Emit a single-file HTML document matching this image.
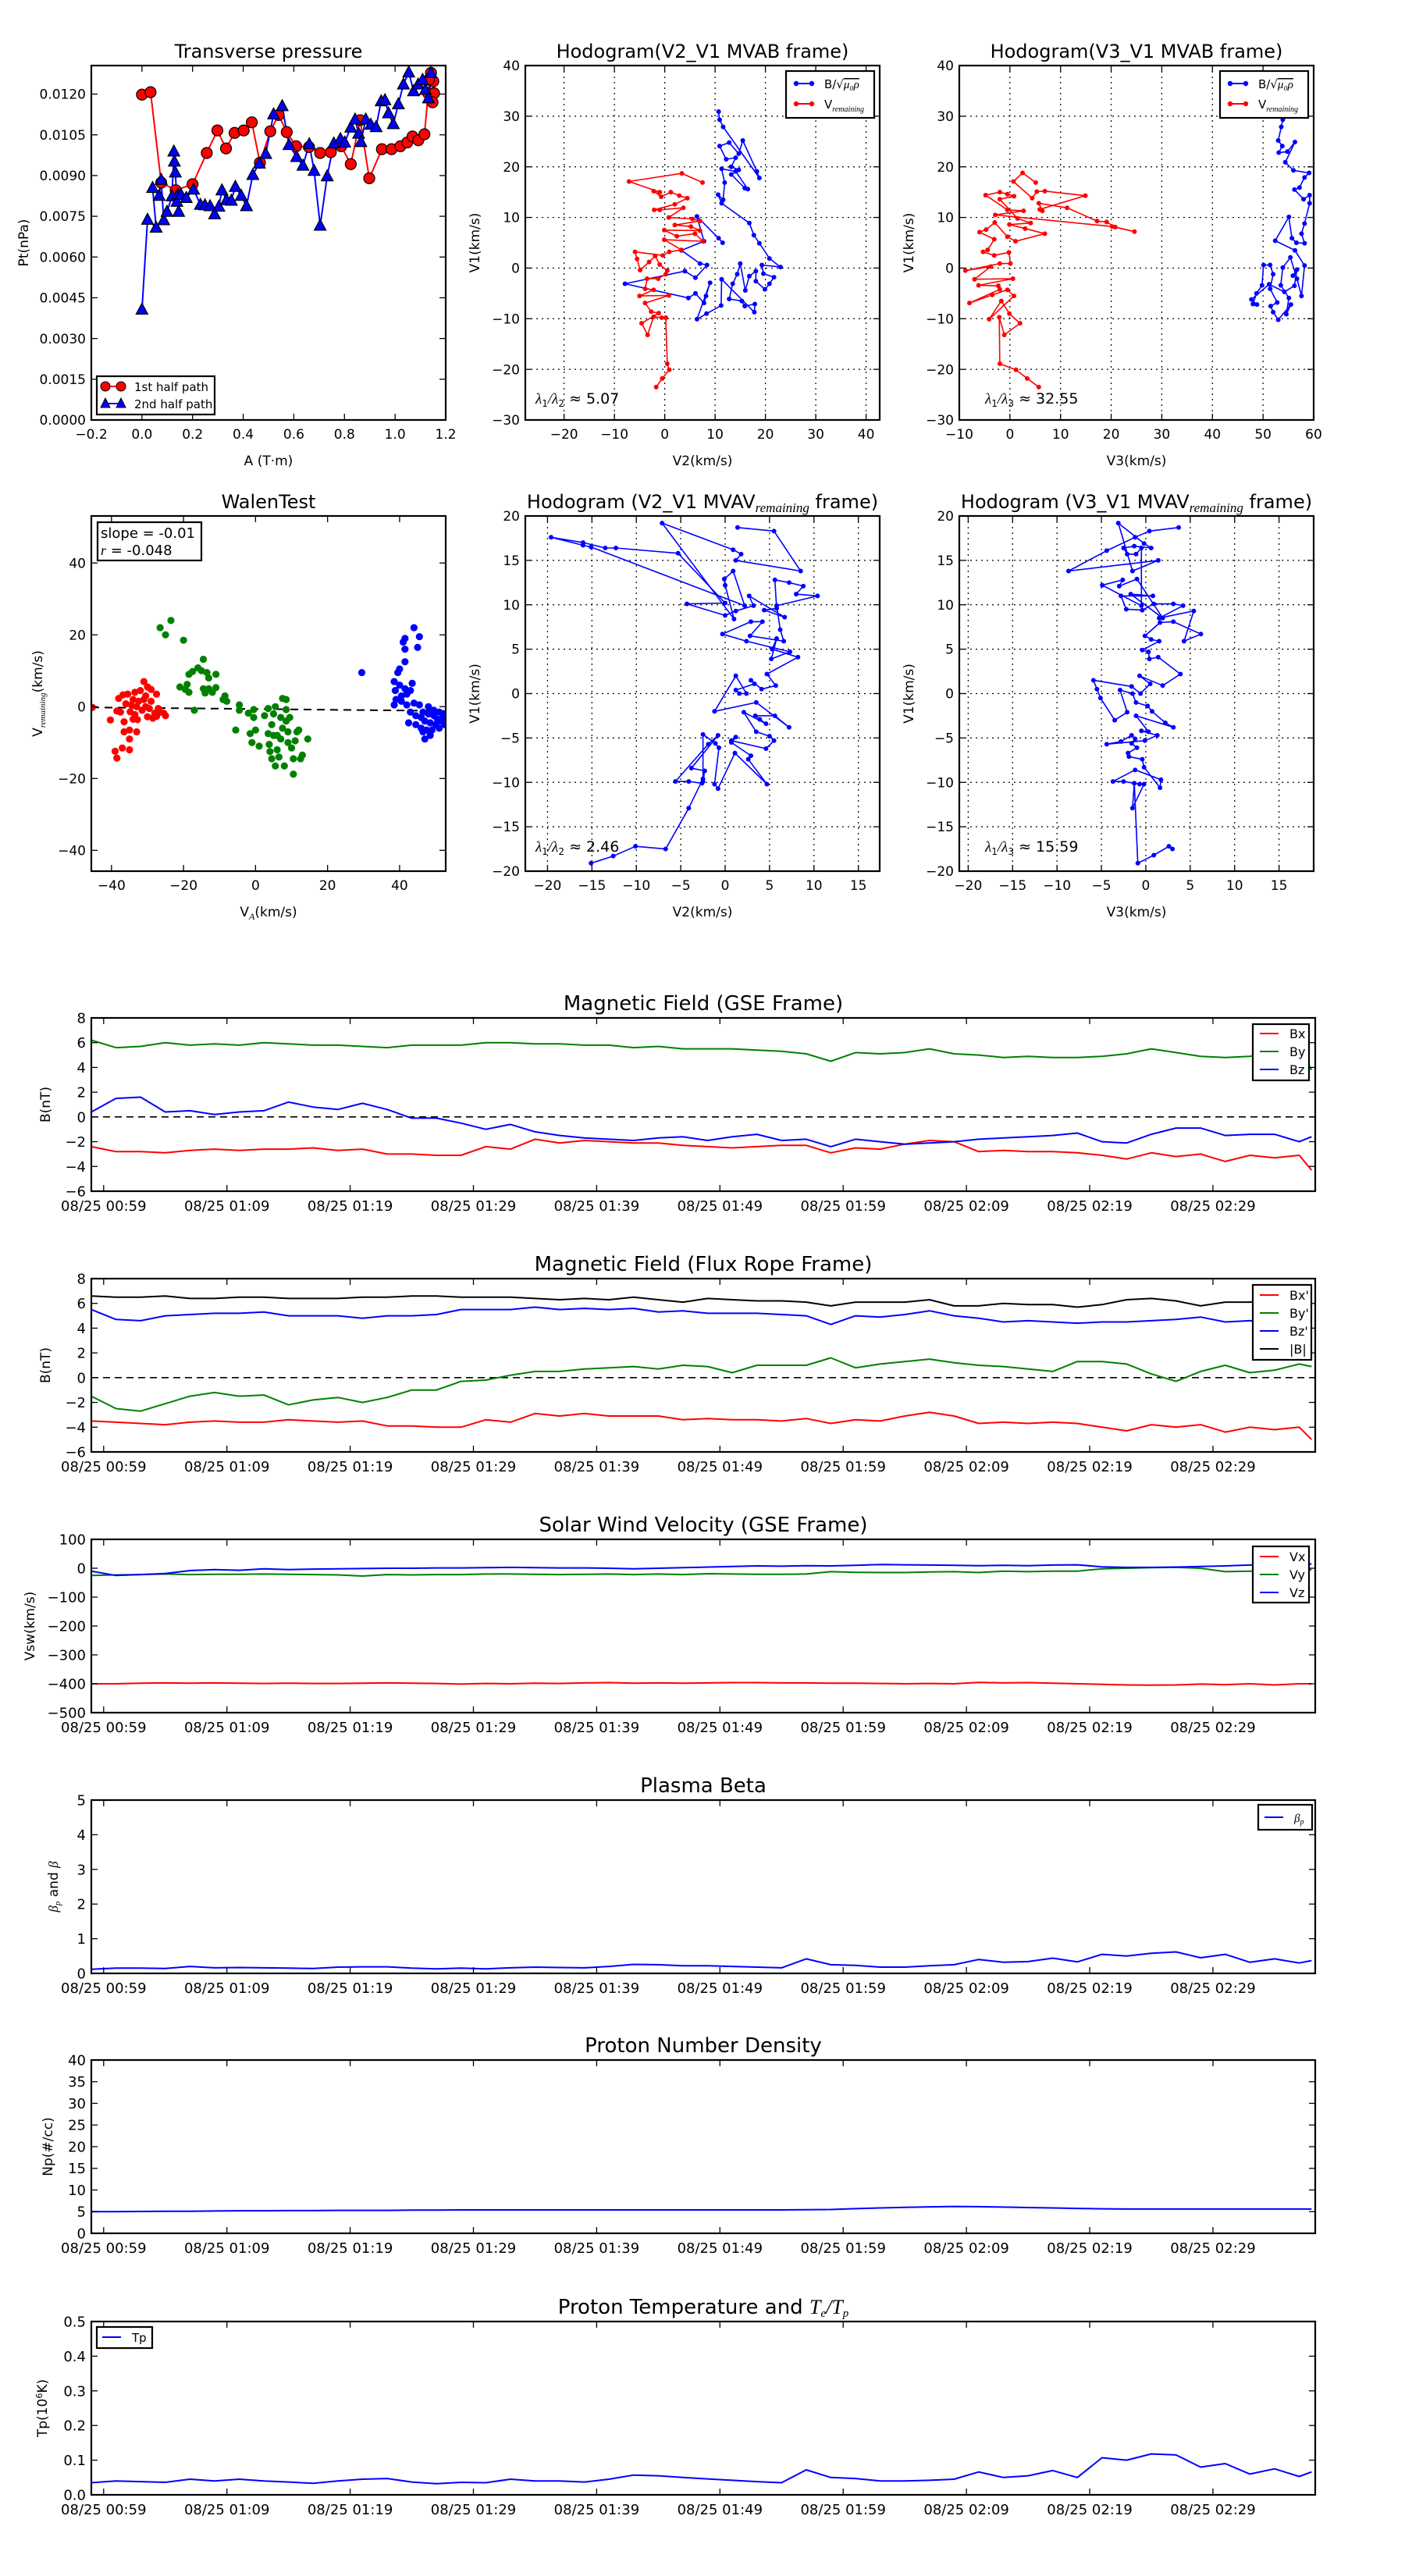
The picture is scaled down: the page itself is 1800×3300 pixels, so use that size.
<!DOCTYPE html>
<html><head><meta charset="utf-8">
<style>
body{margin:0;background:#fff}
svg{display:block}
text{font-family:"DejaVu Sans","Liberation Sans",sans-serif;fill:#000}
</style></head>
<body>
<svg id="fig" width="1800" height="3300" viewBox="0 0 1800 3300"></svg>
<script>
// ---------------- Transverse pressure ----------------
const tpA1 = [0,0.034,0.076,0.133,0.2,0.256,0.298,0.332,0.366,0.402,0.434,0.466,0.507,0.54,0.572,0.609,0.66,0.704,0.746,0.787,0.825,0.862,0.898,0.948,0.986,1.021,1.048,1.069,1.092,1.116,1.131,1.142,1.151,1.154,1.148,1.134];
const tpP1 = [0.01198,0.01207,0.00874,0.00846,0.00868,0.00983,0.01066,0.0100,0.01057,0.01066,0.01096,0.00947,0.01063,0.01123,0.0106,0.01008,0.01005,0.00983,0.00986,0.01008,0.00942,0.01104,0.0089,0.00997,0.00997,0.01008,0.01022,0.01044,0.0103,0.01052,0.01203,0.01278,0.01247,0.01203,0.0117,0.01253];
const tpA2 = [0,0.022,0.056,0.042,0.068,0.076,0.086,0.099,0.119,0.126,0.128,0.132,0.138,0.145,0.142,0.154,0.175,0.204,0.231,0.249,0.269,0.287,0.304,0.316,0.334,0.353,0.369,0.392,0.413,0.438,0.464,0.489,0.52,0.554,0.581,0.611,0.636,0.661,0.68,0.704,0.732,0.758,0.784,0.801,0.825,0.842,0.856,0.865,0.884,0.904,0.925,0.945,0.96,0.974,0.993,1.013,1.033,1.054,1.073,1.091,1.109,1.12,1.132,1.142];
const tpP2 = [0.00407,0.00738,0.00709,0.00855,0.00826,0.00885,0.00736,0.00767,0.00824,0.00989,0.00952,0.00912,0.00804,0.00767,0.0083,0.0083,0.00818,0.00849,0.00793,0.00791,0.00788,0.00758,0.00786,0.00846,0.0081,0.00808,0.00859,0.00826,0.00788,0.00903,0.00945,0.0098,0.01126,0.01156,0.01013,0.00969,0.00937,0.01016,0.00918,0.00716,0.00898,0.01019,0.01035,0.01022,0.01077,0.01107,0.01055,0.01024,0.01107,0.01088,0.01079,0.01174,0.01178,0.0113,0.0109,0.01163,0.01236,0.0128,0.01211,0.01236,0.01253,0.01216,0.01185,0.01278];
const tpXTicks = [-0.2,0,0.2,0.4,0.6,0.8,1.0,1.2];
const tpXLabels = ["\u22120.2","0.0","0.2","0.4","0.6","0.8","1.0","1.2"];
const tpYTicks = [0,0.0015,0.003,0.0045,0.006,0.0075,0.009,0.0105,0.012];
const tpYLabels = ["0.0000","0.0015","0.0030","0.0045","0.0060","0.0075","0.0090","0.0105","0.0120"];

// ---------------- Hodogram V2-V1 MVAB ----------------
const h1BV2 = [10.7,10.9,11.6,18.8,18.3,15.5,14.7,12.8,10.9,12.2,14.1,13.2,14.7,13.2,15.9,16.5,14.1,11.3,11.9,11.6,10.6,11.3,16.8,17.7,18.8,20.8,23.0,19.3,19.6,21.7,20.8,19.9,18.1,18.1,16.8,16.0,15.0,14.4,13.5,12.8,15.3,15.9,17.9,17.8,11.3,11.2,8.3,6.4,9.0,8.2,7.8,6.1,4.7,-7.9,4.0,6.1,8.4,7.0,3.3,7.8,6.4,10.7,11.5];
const h1BV1 = [30.9,29.3,27.9,17.8,19.1,25.2,22.6,24.8,24.1,21.5,21.8,20.0,19.4,18.5,15.8,15.6,19.1,19.6,16.9,13.5,14.5,12.8,8.9,6.5,4.9,1.9,0.2,0.6,-1.1,-1.8,-3.1,-4.2,-2.6,-0.6,-1.6,-4.4,0.9,-1.2,-3.1,-6.1,-6.5,-7.5,-7.1,-8.7,-2.2,-7.4,-9.0,-10.1,-2.9,-5.5,-6.9,-5.0,-5.9,-3.1,-0.6,-1.9,0.6,0.9,3.5,5.3,10.2,5.9,5.0];
const h1RV2 = [7.5,3.4,-7.1,-1.0,-2.2,-0.7,1.2,2.9,4.5,2.0,-2.1,-1.0,3.7,0.8,5.5,7.0,2.0,5.2,7.0,-0.1,2.4,6.0,7.6,-0.1,3.3,0.9,-0.4,-5.9,-5.5,-4.9,-3.1,-1.9,-1.0,0.5,0.2,-1.3,-3.5,-3.9,-2.2,-5.0,0.8,-3.9,-2.7,-1.2,-4.6,-3.4,-2.2,-0.6,0.2,0.5,0.9,-0.5,-1.7];
const h1RV1 = [16.9,18.7,17.1,15.0,15.2,14.1,15.0,14.3,13.8,12.6,11.5,11.5,11.9,10.0,9.7,9.3,8.5,8.2,7.4,7.5,6.3,6.8,5.3,5.6,3.6,3.2,2.5,3.2,1.8,-0.4,1.2,2.4,0.7,-0.5,-1.2,-2.1,-2.1,-4.1,-4.3,-5.5,-5.4,-6.9,-8.6,-8.9,-10.9,-13.2,-9.6,-9.8,-9.8,-18.9,-20.1,-21.8,-23.5];

// ---------------- Hodogram V3-V1 MVAB ----------------
const h2BV3 = [53.3,53.9,53.6,53.0,53.8,53.1,54.8,56.3,54.4,56.0,59.1,58.2,57.2,56.2,58.0,59.2,59.2,58.2,57.6,58.2,56.6,55.7,55.1,52.4,56.3,58.2,57.6,56.7,55.4,53.9,53.5,55.1,54.6,55.5,53.0,52.0,51.5,52.8,51.4,52.0,51.4,50.1,49.8,48.7,48.0,48.8,47.7,51.2,54.2,56.2,56.7,55.9];
const h2BV1 = [30.9,29.3,27.9,25.2,24.1,22.8,23.0,24.9,20.9,19.3,18.8,17.9,15.9,15.5,13.6,14.4,12.8,8.8,6.8,4.9,5.0,5.9,10.1,5.4,3.5,0.5,-5.5,-2.1,2.1,0.1,-3.4,-5.9,-9.1,-7.2,-10.2,-8.7,-7.5,-6.8,-4.1,-1.2,0.6,0.6,-3.4,-5.0,-7.1,-7.2,-6.2,-3.2,-4.7,-3.5,-0.3,-1.5];
const h2RV3 = [5.1,2.5,0.7,4.4,5.3,6.9,14.9,5.9,6.4,5.7,11.3,17.2,19.1,20.8,24.6,20.2,-2.9,2.7,-0.5,-4.8,-2.0,-0.5,0.8,-2.0,1.5,4.1,-0.1,3.0,6.9,1.1,-0.5,-3.0,-4.7,-6.0,-3.1,-4.4,-5.3,-3.1,-0.2,0.1,-2.0,-8.8,-3.8,-7.0,0.6,-6.2,-2.3,-2.0,-8.0,-3.5,-0.5,0.8,-4.1,-1.7,-0.1,2.0,-1.1,-2.1,-2.0,1.2,3.4,5.7];
const h2RV1 = [16.9,18.8,17.1,13.8,15.1,15.2,14.3,11.6,11.3,12.8,11.9,9.3,9.1,8.1,7.2,8.2,10.5,11.3,11.5,14.4,15.0,14.6,14.2,13.6,9.8,8.9,8.6,7.8,6.8,5.3,6.2,9.0,7.6,7.1,5.7,3.6,3.2,2.5,3.1,0.9,0.9,-0.5,0.3,-2.2,-2.1,-3.4,-3.5,-4.2,-6.9,-5.3,-4.3,-5.5,-10.1,-6.5,-9.0,-10.9,-13.2,-9.7,-18.9,-20.1,-21.8,-23.5];

// ---------------- Walen test ----------------
const wRedVA = [-45.3,-40.3,-39,-38.5,-38,-37.5,-37,-36.8,-36.5,-36.5,-35.5,-35,-35,-35,-34.8,-34.5,-34,-34,-33.5,-33.5,-33,-32.8,-32.5,-32,-31.5,-31,-30.5,-30.5,-30,-30,-29.5,-29,-29,-28.5,-28,-27.5,-27.5,-27,-26.5,-25.5,-25,-38.5,-36,-33,-31];
const wRedVR = [-0.2,-3.7,-12.4,-14.3,2.3,-1.5,-11.5,3.3,-4.2,-7,3.5,-6.5,-12,-9,-1.4,0.5,2,-3.5,-2.2,4,-7,-3.6,1.5,4.5,-1,7,0,3,-2.8,5.5,-0.5,1.5,4.8,-3.2,-1.8,3.5,-2.7,-0.5,-1.5,-1.8,-2.5,-1.2,0.8,0,2];
const wGrnVA = [-26.5,-25,-23.5,-21,-20,-19.5,-19,-18.5,-18.5,-17.5,-17,-16,-15,-14.5,-14.5,-14,-13.5,-13,-13,-12,-11,-11,-9,-8.5,-8,-5.5,-4.5,-4.5,-2,-1.5,-1,-0.5,-0.5,0,1,2.5,3.5,3.5,3.8,4,4.5,4.5,5,5.5,5.5,6,6.5,7,7,7.5,7.5,8,8.5,8.5,8.5,9,9,10,10.5,10.5,11,11.5,12,12.5,13,14.5,9.5,6,5];
const wGrnVR = [22,20,24,5.5,18.5,4.8,6.2,9,4,9.8,-1,10.8,10,13.2,5,3.8,9.5,8,5,4,9,5.3,2,3,1.5,-6.5,0.5,-1,-1.8,-7.5,-10,-0.8,-3,-6.5,-11,-2.5,-0.5,-7.5,-10.5,-12.5,-5,-14.5,-2,0,-16.5,-8,-14,-3,-9,2.3,-6,-16.5,2,-0.8,-4,-10,-7,-11.5,-18.8,-14.5,-9.5,-7,-6.5,-14.5,-13.5,-9,-3,-12,-8];
const wBluVA = [29.5,38.5,38.5,38.8,39,39.5,40,40,40.5,40.5,41,41.5,41.5,41.5,41.5,42,42,42.5,43,43,43.5,44,44,44.5,44.5,45,45.5,45.5,46,46,46.5,47,47,47.5,48,48,48.5,49,49.5,49.5,50,50.5,51,51,51.5,52,52.5,52.5,46.5,48.5];
const wBluVR = [9.5,0.5,7,4.5,2,9.5,6,10.5,3,1.5,18,19,16,12.5,5,0.5,3.5,-4.5,-1.5,4.5,6.5,22,1,-5,-2.5,16.5,19.5,0.5,-3,-6,-1.5,-4,-9,-6.5,-2,0,-4.5,-6.5,-2.5,-1,-5,-3.5,-6,-1.5,-4,-3,-5,-2,-7,-8];
const wSlope = -0.01;
const wIntercept = -0.65;
const wXTicks = [-40,-20,0,20,40];
const wYTicks = [-40,-20,0,20,40];

// ---------------- Hodogram V2-V1 MVAV ----------------
const h3V2 = [1.4,5.5,8.5,1.2,1.8,0.9,-7.1,1.0,0.0,-0.1,0.9,2.2,-15.1,-16.0,-19.6,-16.0,-13.5,-12.3,-5.3,0.0,-4.3,0.0,1.2,3.2,2.7,6.7,4.4,5.8,5.6,7.2,8.8,8.0,10.4,5.8,6.2,6.6,2.8,4.2,2.9,-0.3,2.4,7.3,5.2,5.8,5.3,8.2,4.7,5.7,4.1,2.9,3.3,1.2,1.6,2.4,1.2,-1.2,3.5,7.2,5.6,3.4,3.9,4.6,2.1,3.5,5.0,5.5,4.6,0.7,1.2,0.7,2.9,2.6,4.7,1.1,-0.8,-1.2,-0.7,-1.1,-2.5,-2.5,-2.3,-3.8,-0.8,-1.9,-5.6,-4.1,-2.6,-2.5,-4.1,-6.7,-10.1,-12.6,-15.1];
const h3V1 = [18.7,18.3,13.8,15.0,15.7,16.2,19.2,8.4,12.2,12.9,13.8,9.9,16.5,16.7,17.6,17.0,16.4,16.4,15.8,10.2,10.1,8.8,9.3,9.9,11.0,8.6,9.4,9.6,12.8,12.5,12.1,11.2,11.0,9.9,7.2,5.9,6.5,8.1,8.1,6.7,5.9,4.7,3.9,6.2,5.0,4.1,2.2,0.9,0.5,1.5,1.1,0.4,0.0,0.0,2.0,-2.0,-1.0,-3.8,-2.5,-2.5,-2.9,-3.4,-2.1,-4.3,-4.8,-5.3,-6.2,-5.3,-4.9,-5.5,-7.0,-7.4,-10.2,-6.7,-10.7,-10.2,-6.1,-5.6,-4.6,-9.9,-8.7,-8.4,-4.7,-5.7,-9.9,-9.9,-10.1,-9.6,-12.9,-17.5,-17.2,-18.3,-19.1];

// ---------------- Hodogram V3-V1 MVAV ----------------
const h4V3 = [3.7,0.4,-1.2,-4.4,-8.7,1.4,-1.5,-3.1,-0.2,0.6,-1.3,-2.5,-2.1,-1.1,-0.5,-0.5,-4.9,-2.6,-3.0,-1.0,1.9,-1.7,0.8,-2.8,-2.2,-0.4,0.9,3.1,4.2,1.5,5.4,4.3,6.2,3.1,1.6,-0.1,0.6,1.5,-0.4,0.3,0.4,1.4,3.9,1.9,-0.7,0.5,-0.6,-1.6,-5.9,-5.5,-5.1,-3.5,-2.1,-2.9,-1.5,-1.1,0.2,0.7,2.2,3.1,-1.1,0.3,-0.5,1.3,-0.1,-4.4,-2.8,-1.6,-1.2,-1.6,-1.0,-2.0,-1.9,-0.4,-0.2,1.6,1.7,-1.2,-3.7,-2.5,-1.3,-0.7,-0.2,-1.5,-1.3,-0.9,0.9,2.6,3.0];
const h4V1 = [18.7,18.3,17.6,16.1,13.8,15.0,13.8,19.2,16.9,16.4,16.6,16.4,15.7,15.7,16.4,9.9,12.2,12.8,12.1,12.9,8.5,11.2,11.0,11.0,9.5,9.4,10.1,10.1,9.9,8.5,9.3,5.9,6.7,8.1,8.0,6.5,6.1,5.9,4.9,4.7,3.9,4.1,2.2,0.9,2.0,1.1,0.0,0.8,1.5,0.5,-0.5,-3.0,-2.1,0.4,0.0,-1.0,-1.4,-2.0,-3.3,-3.8,-2.5,-4.3,-4.2,-4.7,-5.3,-5.7,-5.4,-4.7,-5.1,-5.6,-6.1,-6.7,-7.1,-7.4,-8.3,-10.6,-9.7,-8.6,-9.9,-9.9,-10.1,-10.2,-10.2,-12.9,-10.1,-19.1,-18.2,-17.2,-17.5];

// ---------------- Time series (minutes after 00:58) ----------------
const tMin = [0,2,4,6,8,10,12,14,16,18,20,22,24,26,28,30,32,34,36,38,40,42,44,46,48,50,52,54,56,58,60,62,64,66,68,70,72,74,76,78,80,82,84,86,88,90,92,94,96,98,99];
const timeTickMin = [1,11,21,31,41,51,61,71,81,91];
const timeTickLabels = ["08/25 00:59","08/25 01:09","08/25 01:19","08/25 01:29","08/25 01:39","08/25 01:49","08/25 01:59","08/25 02:09","08/25 02:19","08/25 02:29"];
const gseBx = [-2.4,-2.8,-2.8,-2.9,-2.7,-2.6,-2.7,-2.6,-2.6,-2.5,-2.7,-2.6,-3.0,-3.0,-3.1,-3.1,-2.4,-2.6,-1.8,-2.1,-1.9,-2.0,-2.1,-2.1,-2.3,-2.4,-2.5,-2.4,-2.3,-2.3,-2.9,-2.5,-2.6,-2.2,-1.9,-2.0,-2.8,-2.7,-2.8,-2.8,-2.9,-3.1,-3.4,-2.9,-3.2,-3.0,-3.6,-3.1,-3.3,-3.1,-4.3];
const gseBy = [6.2,5.6,5.7,6.0,5.8,5.9,5.8,6.0,5.9,5.8,5.8,5.7,5.6,5.8,5.8,5.8,6.0,6.0,5.9,5.9,5.8,5.8,5.6,5.7,5.5,5.5,5.5,5.4,5.3,5.1,4.5,5.2,5.1,5.2,5.5,5.1,5.0,4.8,4.9,4.8,4.8,4.9,5.1,5.5,5.2,4.9,4.8,4.9,5.2,5.5,3.8];
const gseBz = [0.4,1.5,1.6,0.4,0.5,0.2,0.4,0.5,1.2,0.8,0.6,1.1,0.6,-0.1,-0.1,-0.5,-1.0,-0.6,-1.2,-1.5,-1.7,-1.8,-1.9,-1.7,-1.6,-1.9,-1.6,-1.4,-1.9,-1.8,-2.4,-1.8,-2.0,-2.2,-2.1,-2.0,-1.8,-1.7,-1.6,-1.5,-1.3,-2.0,-2.1,-1.4,-0.9,-0.9,-1.5,-1.4,-1.4,-2.0,-1.6];
const frBx = [-3.5,-3.6,-3.7,-3.8,-3.6,-3.5,-3.6,-3.6,-3.4,-3.5,-3.6,-3.5,-3.9,-3.9,-4.0,-4.0,-3.4,-3.6,-2.9,-3.1,-2.9,-3.1,-3.1,-3.1,-3.4,-3.3,-3.4,-3.4,-3.5,-3.3,-3.7,-3.4,-3.5,-3.1,-2.8,-3.1,-3.7,-3.6,-3.7,-3.6,-3.7,-4.0,-4.3,-3.8,-4.0,-3.8,-4.4,-4.0,-4.2,-4.0,-5.0];
const frBy = [-1.5,-2.5,-2.7,-2.1,-1.5,-1.2,-1.5,-1.4,-2.2,-1.8,-1.6,-2.0,-1.6,-1.0,-1.0,-0.3,-0.2,0.2,0.5,0.5,0.7,0.8,0.9,0.7,1.0,0.9,0.4,1.0,1.0,1.0,1.6,0.8,1.1,1.3,1.5,1.2,1.0,0.9,0.7,0.5,1.3,1.3,1.1,0.3,-0.3,0.5,1.0,0.4,0.6,1.1,0.9];
const frBz = [5.5,4.7,4.6,5.0,5.1,5.2,5.2,5.3,5.0,5.0,5.0,4.8,5.0,5.0,5.1,5.5,5.5,5.5,5.7,5.5,5.6,5.5,5.6,5.3,5.4,5.2,5.2,5.2,5.1,5.0,4.3,5.0,4.9,5.1,5.4,5.0,4.8,4.5,4.6,4.5,4.4,4.5,4.5,4.6,4.7,4.9,4.5,4.6,4.4,4.6,3.4];
const frBt = [6.6,6.5,6.5,6.6,6.4,6.4,6.5,6.5,6.4,6.4,6.4,6.5,6.5,6.6,6.6,6.5,6.5,6.5,6.4,6.3,6.4,6.3,6.5,6.3,6.1,6.4,6.3,6.2,6.2,6.1,5.8,6.1,6.1,6.1,6.3,5.8,5.8,6.0,5.9,5.9,5.7,5.9,6.3,6.4,6.2,5.8,6.1,6.1,6.3,6.3,6.0];
const vx = [-400,-400,-398,-397,-398,-397,-398,-399,-398,-399,-399,-398,-397,-398,-399,-401,-399,-400,-398,-399,-397,-396,-398,-397,-398,-397,-396,-396,-397,-397,-398,-398,-399,-400,-399,-400,-395,-397,-396,-398,-400,-402,-404,-405,-404,-401,-403,-400,-404,-400,-400];
const vy = [-25,-23,-22,-20,-22,-21,-21,-20,-21,-22,-23,-27,-22,-23,-22,-22,-20,-20,-21,-22,-21,-20,-22,-20,-22,-19,-20,-21,-21,-20,-12,-14,-15,-15,-13,-12,-15,-10,-12,-10,-10,-2,0,2,3,0,-12,-10,-9,-8,-5];
const vz = [-10,-25,-22,-18,-8,-5,-7,-2,-5,-3,-2,-1,0,0,1,1,2,3,2,1,1,0,-2,0,2,4,6,8,7,9,8,10,13,12,11,10,9,10,9,11,12,5,3,3,4,6,8,11,13,12,15];
const betaP = [0.12,0.15,0.15,0.14,0.2,0.16,0.17,0.16,0.15,0.14,0.18,0.19,0.19,0.15,0.13,0.15,0.13,0.16,0.18,0.17,0.16,0.2,0.26,0.25,0.22,0.22,0.2,0.18,0.16,0.42,0.25,0.23,0.18,0.18,0.22,0.25,0.4,0.32,0.34,0.44,0.33,0.55,0.5,0.58,0.62,0.45,0.55,0.32,0.42,0.3,0.37];
const density = [5.0,5.0,5.05,5.1,5.1,5.15,5.2,5.2,5.25,5.25,5.3,5.3,5.3,5.35,5.35,5.4,5.4,5.4,5.4,5.4,5.4,5.4,5.4,5.4,5.4,5.4,5.4,5.4,5.4,5.45,5.5,5.7,5.85,6.0,6.1,6.2,6.15,6.05,5.95,5.85,5.75,5.65,5.6,5.6,5.6,5.6,5.6,5.6,5.6,5.6,5.6];
const tempP = [0.035,0.04,0.038,0.036,0.045,0.04,0.045,0.04,0.037,0.033,0.04,0.045,0.047,0.037,0.032,0.036,0.035,0.045,0.04,0.04,0.037,0.045,0.057,0.055,0.05,0.046,0.042,0.038,0.035,0.072,0.05,0.047,0.04,0.04,0.042,0.045,0.066,0.05,0.055,0.07,0.05,0.107,0.1,0.118,0.115,0.08,0.09,0.06,0.075,0.053,0.066];

// ================= drawing =================
const svg = document.getElementById('fig');
const NS = 'http://www.w3.org/2000/svg';
function mk(tag, parent, attrs){
  const e = document.createElementNS(NS, tag);
  for (const k in attrs) e.setAttribute(k, attrs[k]);
  parent.appendChild(e);
  return e;
}
let clipId = 0;
function axes(o){
  const g = mk('g', svg, {});
  
  
  const sx = v => o.x + (v - o.xmin) / (o.xmax - o.xmin) * o.w;
  const sy = v => o.y + o.h - (v - o.ymin) / (o.ymax - o.ymin) * o.h;
  const cid = 'c' + (clipId++);
  const cp = mk('clipPath', g, {id: cid});
  mk('rect', cp, {x: o.x, y: o.y, width: o.w, height: o.h});
  const gridG = mk('g', g, {});
  
  
  const plot = mk('g', g, {'clip-path': 'url(#' + cid + ')'});
  
  
  const fr = mk('g', g, {});
  const fs = o.fs || 17;
  o.xticks.forEach((v, i) => {
    const X = sx(v);
    if (o.grid) {
      const gl = mk('line', gridG, {x1: X, x2: X, y1: o.y, y2: o.y + o.h, stroke: '#000', 'stroke-width': 1.2, 'stroke-dasharray': '2,5'});
      
    }
    mk('line', fr, {x1: X, x2: X, y1: o.y + o.h, y2: o.y + o.h - 8, stroke: '#000', 'stroke-width': 1.3});
    mk('line', fr, {x1: X, x2: X, y1: o.y, y2: o.y + 8, stroke: '#000', 'stroke-width': 1.3});
    const t = mk('text', fr, {x: X, y: o.y + o.h + (o.xlabOff || 24), 'font-size': fs, 'text-anchor': 'middle'});
    t.textContent = o.xlabels[i];
    
    
  });
  o.yticks.forEach((v, i) => {
    const Y = sy(v);
    if (o.grid) {
      const gl = mk('line', gridG, {x1: o.x, x2: o.x + o.w, y1: Y, y2: Y, stroke: '#000', 'stroke-width': 1.2, 'stroke-dasharray': '2,5'});
      
    }
    mk('line', fr, {x1: o.x, x2: o.x + 8, y1: Y, y2: Y, stroke: '#000', 'stroke-width': 1.3});
    mk('line', fr, {x1: o.x + o.w, x2: o.x + o.w - 8, y1: Y, y2: Y, stroke: '#000', 'stroke-width': 1.3});
    const t = mk('text', fr, {x: o.x - 7, y: Y + fs * 0.36, 'font-size': fs, 'text-anchor': 'end'});
    t.textContent = o.ylabels[i];
    
    
  });
  const rect = mk('rect', fr, {x: o.x, y: o.y, width: o.w, height: o.h, fill: 'none', stroke: '#000', 'stroke-width': 2.2});
  
  
  // title
  const tt = mk('text', g, {x: o.x + o.w / 2, y: o.y - 10, 'font-size': o.tfs || 24, 'text-anchor': 'middle'});
  tt.innerHTML = o.title;
  
  
  // x label
  if (o.xlabel) {
    const xl = mk('text', g, {x: o.x + o.w / 2, y: o.y + o.h + 58, 'font-size': 17, 'text-anchor': 'middle'});
    xl.innerHTML = o.xlabel;
    
    
  }
  if (o.ylabel) {
    const cy = o.y + o.h / 2;
    const yl = mk('text', g, {x: o.ylx, y: cy, 'font-size': 17, 'text-anchor': 'middle', transform: 'rotate(-90 ' + o.ylx + ' ' + cy + ')'});
    yl.innerHTML = o.ylabel;
    
    
  }
  return {g, plot, sx, sy, o};
}
function polyline(ax, xs, ys, color, w, name){
  const pts = xs.map((v, i) => ax.sx(v).toFixed(1) + ',' + ax.sy(ys[i]).toFixed(1)).join(' ');
  const p = mk('polyline', ax.plot, {points: pts, fill: 'none', stroke: color, 'stroke-width': w, 'stroke-linejoin': 'round'});
  
  
  return p;
}
function dots(ax, xs, ys, color, r, name, stroke){
  xs.forEach((v, i) => {
    const c = mk('circle', ax.plot, {cx: ax.sx(v), cy: ax.sy(ys[i]), r: r, fill: color});
    if (stroke) { c.setAttribute('stroke', '#000'); c.setAttribute('stroke-width', 1.2); }
    
    
  });
}
function tris(ax, xs, ys, name){
  xs.forEach((v, i) => {
    const X = ax.sx(v), Y = ax.sy(ys[i]);
    const t = mk('polygon', ax.plot, {points: (X) + ',' + (Y - 8) + ' ' + (X - 7.5) + ',' + (Y + 6) + ' ' + (X + 7.5) + ',' + (Y + 6), fill: '#0000ff', stroke: '#000', 'stroke-width': 1.2});
    
    
  });
}
function rangeTicks(a, b, s){ const r = []; for (let v = a; v <= b + 1e-9; v += s) r.push(Math.round(v * 1000) / 1000); return r; }
function fmt(v){ return v < 0 ? '\u2212' + Math.abs(v) : String(v); }
function legendBox(x, y, w, h, name){
  const r = mk('rect', svg, {x: x, y: y, width: w, height: h, fill: '#fff', stroke: '#000', 'stroke-width': 2.2});
  
  
}
function legendLine(x, y, color, label, name, marker, fs){
  const l = mk('line', svg, {x1: x, x2: x + 24, y1: y, y2: y, stroke: color, 'stroke-width': 2});
  
  
  if (marker) {
    mk('circle', svg, {cx: x + 2, cy: y, r: 3.2, fill: color});
    mk('circle', svg, {cx: x + 22, cy: y, r: 3.2, fill: color});
  }
  const t = mk('text', svg, {x: x + 38, y: y + 6, 'font-size': fs || 16});
  t.innerHTML = label;
  
  
}
const IT = 'font-family="Liberation Serif, DejaVu Serif, serif" font-style="italic"';

// ---- Transverse pressure ----
const axTP = axes({name: 'transverse-pressure-chart', x: 117, y: 84, w: 454, h: 454, xmin: -0.2, xmax: 1.2, ymin: 0, ymax: 0.01305,
  xticks: tpXTicks, xlabels: tpXLabels, yticks: tpYTicks, ylabels: tpYLabels, title: 'Transverse pressure', xlabel: 'A (T\u00b7m)', ylabel: 'Pt(nPa)', ylx: 36});
polyline(axTP, tpA1, tpP1, '#ff0000', 2, 'first-half-path-line');
polyline(axTP, tpA2, tpP2, '#0000ff', 2, 'second-half-path-line');
dots(axTP, tpA1, tpP1, '#ff0000', 7, 'first-half-point', true);
tris(axTP, tpA2, tpP2, 'second-half-point');
legendBox(124, 482, 151, 49, 'tp-legend');
(function(){
  mk('line', svg, {x1: 132, x2: 152, y1: 495, y2: 495, stroke: '#ff0000', 'stroke-width': 2});
  mk('circle', svg, {cx: 135, cy: 495, r: 6, fill: '#ff0000', stroke: '#000'});
  mk('circle', svg, {cx: 155, cy: 495, r: 6, fill: '#ff0000', stroke: '#000'});
  const t1 = mk('text', svg, {x: 172, y: 501, 'font-size': 15}); t1.textContent = '1st half path';
  
  
  mk('line', svg, {x1: 132, x2: 152, y1: 517, y2: 517, stroke: '#0000ff', 'stroke-width': 2});
  mk('polygon', svg, {points: '135,510 129,522 141,522', fill: '#0000ff', stroke: '#000'});
  mk('polygon', svg, {points: '155,510 149,522 161,522', fill: '#0000ff', stroke: '#000'});
  const t2 = mk('text', svg, {x: 172, y: 523, 'font-size': 15}); t2.textContent = '2nd half path';
  
  
})();

// ---- Hodogram 1 ----
const ax1 = axes({name: 'hodogram-v2-v1-mvab', x: 673, y: 84, w: 454, h: 454, xmin: -27.7, xmax: 42.7, ymin: -30, ymax: 40, grid: true,
  xticks: rangeTicks(-20, 40, 10), xlabels: rangeTicks(-20, 40, 10).map(fmt), yticks: rangeTicks(-30, 40, 10), ylabels: rangeTicks(-30, 40, 10).map(fmt),
  title: 'Hodogram(V2_V1 MVAB frame)', xlabel: 'V2(km/s)', ylabel: 'V1(km/s)', ylx: 614});
polyline(ax1, h1BV2, h1BV1, '#0000ff', 1.6, 'b-alfven-line');
dots(ax1, h1BV2, h1BV1, '#0000ff', 3, 'b-alfven-point');
polyline(ax1, h1RV2, h1RV1, '#ff0000', 1.6, 'v-remaining-line');
dots(ax1, h1RV2, h1RV1, '#ff0000', 3, 'v-remaining-point');

// ---- Hodogram 2 ----
const ax2 = axes({name: 'hodogram-v3-v1-mvab', x: 1229, y: 84, w: 454, h: 454, xmin: -10, xmax: 60, ymin: -30, ymax: 40, grid: true,
  xticks: rangeTicks(-10, 60, 10), xlabels: rangeTicks(-10, 60, 10).map(fmt), yticks: rangeTicks(-30, 40, 10), ylabels: rangeTicks(-30, 40, 10).map(fmt),
  title: 'Hodogram(V3_V1 MVAB frame)', xlabel: 'V3(km/s)', ylabel: 'V1(km/s)', ylx: 1170});
polyline(ax2, h2BV3, h2BV1, '#0000ff', 1.6, 'b-alfven-line');
dots(ax2, h2BV3, h2BV1, '#0000ff', 3, 'b-alfven-point');
polyline(ax2, h2RV3, h2RV1, '#ff0000', 1.6, 'v-remaining-line');
dots(ax2, h2RV3, h2RV1, '#ff0000', 3, 'v-remaining-point');

const legLab1 = 'B/\u221a<tspan ' + IT + ' text-decoration="overline">\u03bc\u2080\u03c1</tspan>';
const legLab2 = 'V<tspan ' + IT + ' font-size="10" dy="4">remaining</tspan>';
legendBox(1007, 91, 113, 60, 'hodogram1-legend');
legendLine(1018, 107, '#0000ff', legLab1, 'legend-b-alfven', true, 15);
legendLine(1018, 133, '#ff0000', legLab2, 'legend-v-remaining', true, 15);
legendBox(1563, 91, 113, 60, 'hodogram2-legend');
legendLine(1574, 107, '#0000ff', legLab1, 'legend-b-alfven', true, 15);
legendLine(1574, 133, '#ff0000', legLab2, 'legend-v-remaining', true, 15);

function lam(x, y, sub, val, name){
  const t = mk('text', svg, {x: x, y: y, 'font-size': 19});
  t.innerHTML = '<tspan ' + IT + '>\u03bb</tspan><tspan font-size="12" dy="4">1</tspan><tspan dy="-4" ' + IT + '>/\u03bb</tspan><tspan font-size="12" dy="4">' + sub + '</tspan><tspan dy="-4"> \u2248 ' + val + '</tspan>';
  
  
}
lam(686, 517, '2', '5.07', 'eigenvalue-ratio');
lam(1262, 517, '3', '32.55', 'eigenvalue-ratio');

// ---- Walen ----
const axW = axes({name: 'walen-test-chart', x: 117, y: 661, w: 454, h: 455, xmin: -45.6, xmax: 52.8, ymin: -45.8, ymax: 53.1,
  xticks: wXTicks, xlabels: wXTicks.map(fmt), yticks: wYTicks, ylabels: wYTicks.map(fmt),
  title: 'WalenTest', xlabel: 'V<tspan ' + IT + ' font-size="12" dy="4">A</tspan><tspan dy="-4">(km/s)</tspan>',
  ylabel: 'V<tspan ' + IT + ' font-size="11" dy="4">remaining</tspan><tspan dy="-4">(km/s)</tspan>', ylx: 54});
(function(){
  const xa = axW.o.xmin, xb = axW.o.xmax;
  const l = mk('line', axW.plot, {x1: axW.sx(xa), y1: axW.sy(wSlope * xa + wIntercept), x2: axW.sx(xb), y2: axW.sy(wSlope * xb + wIntercept), stroke: '#000', 'stroke-width': 2, 'stroke-dasharray': '10,7'});
  
  
})();
dots(axW, wRedVA, wRedVR, '#ff0000', 4.6, 'walen-point-red');
dots(axW, wGrnVA, wGrnVR, '#008000', 4.6, 'walen-point-green');
dots(axW, wBluVA, wBluVR, '#0000ff', 4.6, 'walen-point-blue');
legendBox(125, 669, 133, 49, 'walen-stats-box');
(function(){
  const t1 = mk('text', svg, {x: 129, y: 689, 'font-size': 18}); t1.textContent = 'slope = -0.01';
  
  
  const t2 = mk('text', svg, {x: 129, y: 711, 'font-size': 18}); t2.innerHTML = '<tspan ' + IT + '>r</tspan> = -0.048';
  
  
})();

// ---- Hodogram 3 ----
const ax3 = axes({name: 'hodogram-v2-v1-mvav', x: 673, y: 661, w: 454, h: 455, xmin: -22.5, xmax: 17.4, ymin: -20, ymax: 20, grid: true,
  xticks: rangeTicks(-20, 15, 5), xlabels: rangeTicks(-20, 15, 5).map(fmt), yticks: rangeTicks(-20, 20, 5), ylabels: rangeTicks(-20, 20, 5).map(fmt),
  title: 'Hodogram (V2_V1 MVAV<tspan ' + IT + ' font-size="17" dy="5">remaining</tspan><tspan dy="-5"> frame)</tspan>', xlabel: 'V2(km/s)', ylabel: 'V1(km/s)', ylx: 614});
polyline(ax3, h3V2, h3V1, '#0000ff', 1.6, 'hodogram-line');
dots(ax3, h3V2, h3V1, '#0000ff', 3, 'hodogram-point');
lam(686, 1091, '2', '2.46', 'eigenvalue-ratio');

// ---- Hodogram 4 ----
const ax4 = axes({name: 'hodogram-v3-v1-mvav', x: 1229, y: 661, w: 454, h: 455, xmin: -21.0, xmax: 18.9, ymin: -20, ymax: 20, grid: true,
  xticks: rangeTicks(-20, 15, 5), xlabels: rangeTicks(-20, 15, 5).map(fmt), yticks: rangeTicks(-20, 20, 5), ylabels: rangeTicks(-20, 20, 5).map(fmt),
  title: 'Hodogram (V3_V1 MVAV<tspan ' + IT + ' font-size="17" dy="5">remaining</tspan><tspan dy="-5"> frame)</tspan>', xlabel: 'V3(km/s)', ylabel: 'V1(km/s)', ylx: 1170});
polyline(ax4, h4V3, h4V1, '#0000ff', 1.6, 'hodogram-line');
dots(ax4, h4V3, h4V1, '#0000ff', 3, 'hodogram-point');
lam(1262, 1091, '3', '15.59', 'eigenvalue-ratio');

// ---- Time series panels ----
function tsAxes(name, top, ymin, ymax, yticks, ylabels, title, ylabel, ylx){
  return axes({name: name, x: 117, y: top, w: 1568, h: 222, xmin: 0, xmax: 99.3, ymin: ymin, ymax: ymax,
    xticks: timeTickMin, xlabels: timeTickLabels, yticks: yticks, ylabels: ylabels, fs: 18, tfs: 26,
    title: title, ylabel: ylabel, ylx: ylx, xlabOff: 25});
}
function zeroLine(ax){
  const l = mk('line', ax.plot, {x1: ax.o.x, x2: ax.o.x + ax.o.w, y1: ax.sy(0), y2: ax.sy(0), stroke: '#000', 'stroke-width': 1.6, 'stroke-dasharray': '9,6'});
  
  
}
const bT = rangeTicks(-6, 8, 2);
const axG = tsAxes('magnetic-field-gse-chart', 1304, -6, 8, bT, bT.map(fmt), 'Magnetic Field (GSE Frame)', 'B(nT)', 64);
zeroLine(axG);
polyline(axG, tMin, gseBx, '#ff0000', 2, 'bx-line');
polyline(axG, tMin, gseBy, '#008000', 2, 'by-line');
polyline(axG, tMin, gseBz, '#0000ff', 2, 'bz-line');
legendBox(1605, 1312, 72, 72, 'gse-legend');
legendLine(1614, 1324, '#ff0000', 'Bx', 'legend-bx', false, 16);
legendLine(1614, 1347, '#008000', 'By', 'legend-by', false, 16);
legendLine(1614, 1370, '#0000ff', 'Bz', 'legend-bz', false, 16);

const axF = tsAxes('magnetic-field-flux-rope-chart', 1638, -6, 8, bT, bT.map(fmt), 'Magnetic Field (Flux Rope Frame)', 'B(nT)', 64);
zeroLine(axF);
polyline(axF, tMin, frBx, '#ff0000', 2, 'bx-prime-line');
polyline(axF, tMin, frBy, '#008000', 2, 'by-prime-line');
polyline(axF, tMin, frBz, '#0000ff', 2, 'bz-prime-line');
polyline(axF, tMin, frBt, '#000000', 2, 'b-magnitude-line');
legendBox(1605, 1646, 75, 96, 'flux-rope-legend');
legendLine(1614, 1659, '#ff0000', "Bx'", 'legend-bx-prime', false, 16);
legendLine(1614, 1682, '#008000', "By'", 'legend-by-prime', false, 16);
legendLine(1614, 1705, '#0000ff', "Bz'", 'legend-bz-prime', false, 16);
legendLine(1614, 1728, '#000000', '|B|', 'legend-b-magnitude', false, 16);

const vT = rangeTicks(-500, 100, 100);
const axV = tsAxes('solar-wind-velocity-chart', 1972, -500, 100, vT, vT.map(fmt), 'Solar Wind Velocity (GSE Frame)', 'Vsw(km/s)', 44);
polyline(axV, tMin, vx, '#ff0000', 2, 'vx-line');
polyline(axV, tMin, vy, '#008000', 2, 'vy-line');
polyline(axV, tMin, vz, '#0000ff', 2, 'vz-line');
legendBox(1605, 1981, 72, 72, 'velocity-legend');
legendLine(1614, 1994, '#ff0000', 'Vx', 'legend-vx', false, 16);
legendLine(1614, 2017, '#008000', 'Vy', 'legend-vy', false, 16);
legendLine(1614, 2040, '#0000ff', 'Vz', 'legend-vz', false, 16);

const betaT = rangeTicks(0, 5, 1);
const axB = tsAxes('plasma-beta-chart', 2306, 0, 5, betaT, betaT.map(String), 'Plasma Beta',
  '<tspan ' + IT + '>\u03b2</tspan><tspan ' + IT + ' font-size="11" dy="3">p</tspan><tspan dy="-3"> and </tspan><tspan ' + IT + '>\u03b2</tspan>', 74);
polyline(axB, tMin, betaP, '#0000ff', 2, 'beta-p-line');
legendBox(1612, 2312, 69, 32, 'beta-legend');
legendLine(1620, 2328, '#0000ff', '<tspan ' + IT + '>\u03b2</tspan><tspan ' + IT + ' font-size="10" dy="3">p</tspan>', 'legend-beta-p', false, 15);

const nT = rangeTicks(0, 40, 5);
const axN = tsAxes('proton-density-chart', 2639, 0, 40, nT, nT.map(String), 'Proton Number Density', 'Np(#/cc)', 67);
polyline(axN, tMin, density, '#0000ff', 2, 'density-line');

const tT = [0, 0.1, 0.2, 0.3, 0.4, 0.5];
const axT = tsAxes('proton-temperature-chart', 2974, 0, 0.5, tT, tT.map(v => v.toFixed(1)),
  'Proton Temperature and <tspan ' + IT + '>T</tspan><tspan ' + IT + ' font-size="15" dy="4">e</tspan><tspan ' + IT + ' dy="-4">/T</tspan><tspan ' + IT + ' font-size="15" dy="4">p</tspan>',
  'Tp(10<tspan font-size="11" dy="-6">6</tspan><tspan dy="6">K)</tspan>', 60);
polyline(axT, tMin, tempP, '#0000ff', 2, 'temperature-line');
legendBox(124, 2981, 71, 27, 'temperature-legend');
legendLine(131, 2994, '#0000ff', 'Tp', 'legend-tp', false, 15);
</script>
</body></html>
